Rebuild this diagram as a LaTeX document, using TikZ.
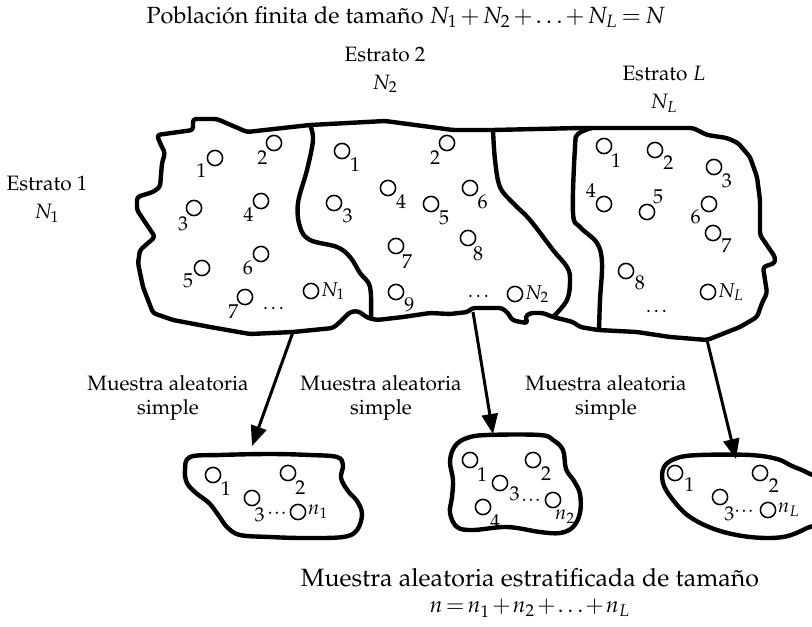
\documentclass[tikz,border=0pt]{standalone}
\usepackage[T1]{fontenc}
\usepackage{mathpazo}
\usepackage{amsmath}
\usetikzlibrary{arrows.meta}

\tikzset{
  unit/.style={circle, draw, line width=0.75pt, minimum size=7.6pt, inner sep=0pt},
  idx/.style={inner sep=0.3pt, font=\fontsize{10}{11}\selectfont},
  txt/.style={align=center, font=\fontsize{10.4}{12}\selectfont},
  region/.style={line width=2.2pt, line join=round},
  pick/.style={line width=1.5pt, -{Triangle[length=10pt,width=8pt]}},
}
\newcommand{\tightmath}{\medmuskip=2mu \thickmuskip=3mu}

\begin{document}
\begin{tikzpicture}[x=0.5pt, y=-0.5pt, label distance=0.3pt]
  \useasboundingbox (0,0) rectangle (812,626);
  % Define texts
  \node[txt, font=\fontsize{11.7}{14}\selectfont\tightmath] (title) at (406,17)
    {Poblaci\'on finita de tama\~no $N_1 + N_2 + \ldots + N_L = N$};
  \node[txt] (e1) at (47,199) {Estrato 1\\[2pt]$N_1$};
  \node[txt] (e2) at (385,70) {Estrato 2\\[2pt]$N_2$};
  \node[txt] (eL) at (664,89) {Estrato $L$\\[2pt]$N_L$};
  \node[txt] (m1) at (168,398) {Muestra aleatoria\\simple};
  \node[txt] (m2) at (381,398) {Muestra aleatoria\\simple};
  \node[txt] (m3) at (606,398) {Muestra aleatoria\\simple};
  \node[txt, font=\fontsize{12.5}{13}\selectfont] (res) at (530,593)
    {Muestra aleatoria estratificada de tama\~no\\
     {\fontsize{11.2}{13}\selectfont\medmuskip=1.5mu \thickmuskip=2.5mu
      $n = n_1 + n_2 + \ldots + n_L$}};

  % Define population
  \draw[region, rounded corners=1.5pt] (193,119) -- (217,119) -- (247,132) -- (310,125)
    -- (385,121) -- (453,130) -- (493,130) -- (580,128) -- (693,128) -- (707,135)
    -- (727,138) -- (738,143) -- (750,157) -- (757,177) -- (760,200) -- (760,235)
    -- (775,257) -- (775,263) -- (763,267) -- (767,293) -- (762,303) -- (757,317)
    -- (740,327) -- (707,340) -- (670,337) -- (637,332) -- (598,330) -- (580,327)
    -- (573,322) -- (553,317) -- (543,313) -- (530,313) -- (525,317) -- (528,323)
    -- (520,322) -- (512,320) -- (508,313) -- (502,308) -- (472,308) -- (468,312)
    -- (450,314) -- (430,313) -- (403,317) -- (377,320) -- (368,318) -- (358,311)
    -- (350,312) -- (340,322) -- (333,328) -- (293,332) -- (250,334) -- (210,327)
    -- (173,320) -- (153,313) -- (143,287) -- (138,263) -- (140,250) -- (155,237)
    -- (145,222) -- (137,210) -- (137,197) -- (153,192) -- (160,187) -- (162,163)
    -- (165,153) -- (160,143) -- (157,135) -- (193,130) -- cycle;
  \draw[region] plot[smooth, tension=0.6] coordinates {(310,125) (313,140) (307,170)
    (298,203) (300,227) (310,240) (337,247) (350,257) (360,273) (370,287) (371,318)};
  \draw[region] plot[smooth, tension=0.6] coordinates {(493,130) (495,160) (500,187)
    (513,203) (530,220) (553,250) (567,267) (570,280) (567,300) (553,317)};
  \draw[region] plot[smooth, tension=0.6] coordinates {(592,128) (578,134) (575,147)
    (573,213) (580,227) (597,243) (602,263) (600,300) (599,330)};

  % Stratum 1
  \node[unit, label={[idx]210:1}] (a1) at (215,158) {};
  \node[unit, label={[idx]232:2}] (a2) at (274,143) {};
  \node[unit, label={[idx]237:3}] (a3) at (194,208) {};
  \node[unit, label={[idx]221:4}] (a4) at (261,201) {};
  \node[unit, label={[idx]209:5}] (a5) at (202,268) {};
  \node[unit, label={[idx]216:6}] (a6) at (261,254) {};
  \node[unit, label={[idx]231:7}] (a7) at (245,297) {};
  \node[unit, label={[idx]right:$N_1$}] (aN) at (311,291) {};
  \node[idx] (ad) at (275,308) {\dots};
  % Stratum 2
  \node[unit, label={[idx]-38:1}] (b1) at (342,151) {};
  \node[unit, label={[idx]229:2}] (b2) at (447,143) {};
  \node[unit, label={[idx]-33:3}] (b3) at (334,203) {};
  \node[unit, label={[idx]-38:4}] (b4) at (388,188) {};
  \node[unit, label={[idx]-38:5}] (b5) at (431,204) {};
  \node[unit, label={[idx]-43:6}] (b6) at (470,188) {};
  \node[unit, label={[idx]-55:7}] (b7) at (396,246) {};
  \node[unit, label={[idx]-62:8}] (b8) at (468,238) {};
  \node[unit, label={[idx]-35:9}] (b9) at (396,292) {};
  \node[unit, label={[idx]right:$N_2$}] (bN) at (515,294) {};
  \node[idx] (bd) at (480,296) {\dots};
  % Stratum L
  \node[unit, label={[idx]-47:1}] (l1) at (604,146) {};
  \node[unit, label={[idx]-35:2}] (l2) at (655,150) {};
  \node[unit, label={[idx]-40:3}] (l3) at (714,167) {};
  \node[unit, label={[idx]142:4}] (l4) at (604,204) {};
  \node[unit, label={[idx]56:5}] (l5) at (647,212) {};
  \node[unit, label={[idx]215:6}] (l6) at (709,204) {};
  \node[unit, label={[idx]-32:7}] (l7) at (713,233) {};
  \node[unit, label={[idx]-27:8}] (l8) at (626,271) {};
  \node[unit, label={[idx]right:$N_L$}] (lN) at (708,292) {};
  \node[idx] (ld) at (658,311) {\dots};

  % Define samples
  \draw[region] plot[smooth cycle, tension=0.6] coordinates {(190,457) (220,455)
    (270,454) (310,455) (337,457) (343,465) (341,478) (348,491) (357,501) (362,514)
    (357,530) (343,537) (303,538) (270,537) (240,535) (227,527) (219,516) (209,503)
    (196,493) (187,483) (185,470)};
  \draw[region] plot[smooth cycle, tension=0.6] coordinates {(467,438) (487,435)
    (540,435) (553,440) (563,450) (566,469) (574,481) (580,494) (580,513) (573,527)
    (560,533) (540,532) (507,527) (473,530) (457,527) (450,513) (452,497) (453,480)
    (450,461) (455,446)};
  \draw[region] plot[smooth cycle, tension=0.6] coordinates {(677,458) (700,455)
    (750,455) (777,459) (792,466) (808,473) (818,482) (818,520) (807,528) (783,537)
    (750,537) (717,530) (690,517) (673,500) (663,483) (664,467)};
  \node[unit, label={[idx]-39:1}] (p1) at (213,475) {};
  \node[unit, label={[idx]-45:2}] (p2) at (288,473) {};
  \node[unit, label={[idx]-80:3}] (p3) at (252,498) {};
  \node[unit, label={[idx]right:$n_1$}] (pn) at (298,512) {};
  \node[idx, inner sep=0pt] (pd) at (277,514) {$\cdot\!\cdot\!\cdot$};
  \node[unit, label={[idx]-47:1}] (q1) at (470,460) {};
  \node[unit, label={[idx]-38:2}] (q2) at (533,460) {};
  \node[unit, label={[idx]-16:3}] (q3) at (500,483) {};
  \node[unit, label={[idx]-47:4}] (q4) at (483,507) {};
  \node[unit, label={[idx]-84:$n_2$}] (qn) at (553,500) {};
  \node[idx, inner sep=0pt] (qd) at (531,501) {$\cdot\!\cdot\!\cdot$};
  \node[unit, label={[idx]-21:1}] (r1) at (675,473) {};
  \node[unit, label={[idx]-28:2}] (r2) at (760,473) {};
  \node[unit, label={[idx]-68:3}] (r3) at (720,497) {};
  \node[unit, label={[idx]right:$n_L$}] (rn) at (768,510) {};
  \node[idx, inner sep=0pt] (rd) at (744,512) {$\cdot\!\cdot\!\cdot$};

  % Define draws
  \coordinate (s1) at (293,332);
  \coordinate (t1) at (252,446);
  \coordinate (s2) at (473,312);
  \coordinate (t2) at (493,434);
  \coordinate (s3) at (707,340);
  \coordinate (t3) at (736,459);
  \draw[pick] (s1) -- (t1);
  \draw[pick] (s2) -- (t2);
  \draw[pick] (s3) -- (t3);
\end{tikzpicture}
\end{document}
